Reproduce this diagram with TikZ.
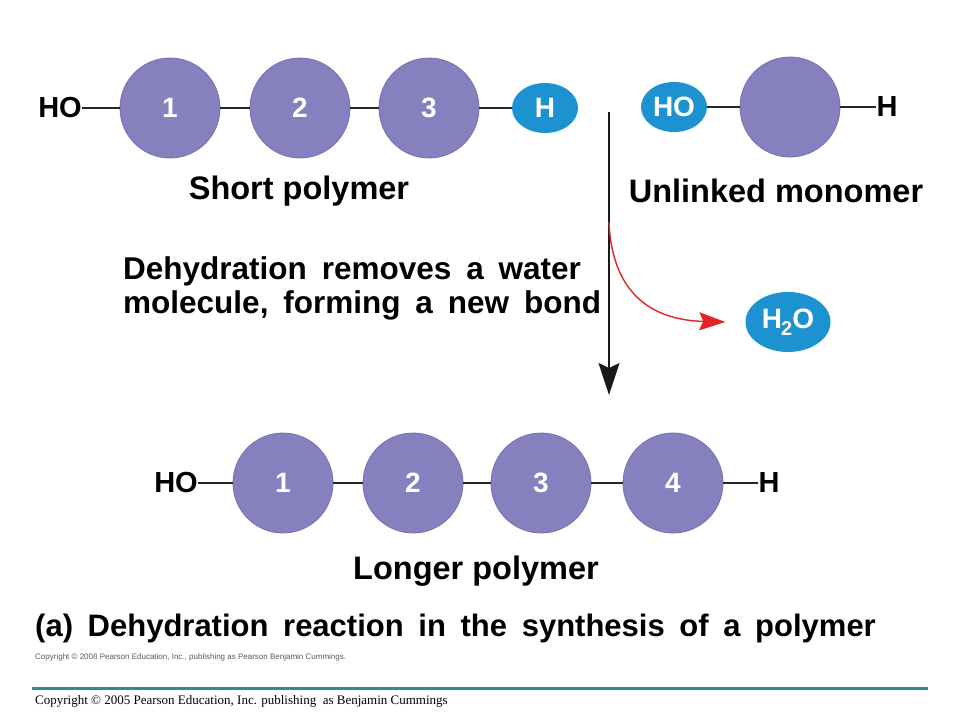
\documentclass[tikz,border=0pt]{standalone}
\usepackage{fontspec}
\setmainfont{Liberation Sans}
\newfontfamily\widefont[WordSpace=1.52]{Liberation Sans}
\newfontfamily\midfont[WordSpace=1.7]{Liberation Sans}
\newfontfamily\seriffont{Liberation Serif}
\usetikzlibrary{arrows.meta,shapes.geometric}
\definecolor{monofill}{RGB}{134,128,190}
\definecolor{monoedge}{RGB}{118,112,176}
\definecolor{grpblue}{RGB}{28,146,208}
\definecolor{arrred}{RGB}{226,35,40}
\definecolor{tealbar}{RGB}{46,140,140}
\definecolor{copygray}{RGB}{90,90,90}
\tikzset{
  mono/.style={circle, minimum size=100pt, inner sep=0pt, fill=monofill, draw=monoedge, line width=0.8pt,
    text=white, font=\bfseries\fontsize{28}{30}\selectfont},
  grp/.style={ellipse, minimum width=66pt, minimum height=50pt, inner sep=0pt, fill=grpblue,
    text=white, font=\bfseries\fontsize{28}{30}\selectfont},
  endlab/.style={inner sep=0pt, font=\bfseries\fontsize{29}{30}\selectfont},
  caplab/.style={inner sep=0pt, font=\bfseries\fontsize{32.5}{36}\selectfont},
  bond/.style={line width=1.3pt, black!85},
}
\begin{document}
\begin{tikzpicture}[x=1pt,y=-1pt]
\useasboundingbox (0,0) rectangle (960,720);
\fill[white] (0,0) rectangle (960,720);
% short polymer
\node[endlab] (tho) at (60,108) {HO};
\node[mono] (t1) at (170,108) {1};
\node[mono] (t2) at (300,108) {\raisebox{-2pt}{2}};
\node[mono] (t3) at (429,108) {\raisebox{-2pt}{3}};
\node[grp] (th) at (545,108) {H};
\draw[bond] (tho.east) -- (t1);
\draw[bond] (t1) -- (t2);
\draw[bond] (t2) -- (t3);
\draw[bond] (t3) -- (th);
\node[caplab] (tlab) at (299,191) {Short polymer};
% monomer
\node[grp] (mho) at (674,107) {HO};
\node[mono] (m1) at (790,107) {};
\node[endlab] (mh) at (887,107) {H};
\draw[bond] (mho) -- (m1);
\draw[bond] (m1) -- (mh.west);
\node[caplab] (mlab) at (776,191) {Unlinked monomer};
% reaction arrow
\coordinate (atop) at (609,112);
\coordinate (abot) at (609,395);
\coordinate (rstart) at (609,222);
\draw[line width=1.4pt, black!90, -{Stealth[length=32pt,width=21pt,inset=5pt]}] (atop) -- (abot);
\node[grp, minimum width=85pt, minimum height=60pt] (water) at (788,322) {H\kern-1pt\raisebox{-7pt}{\fontsize{20}{22}\selectfont 2}O};
\draw[line width=1.4pt, arrred, -{Stealth[length=26pt,width=18pt,inset=4pt]}] (rstart) .. controls (612,292) and (650,320) .. ([xshift=-20pt]water.west);
\node[inner sep=0pt, anchor=west, align=left, font=\bfseries\midfont\fontsize{31.5}{34}\selectfont] (dtext) at (123,288) {Dehydration removes a water\\molecule, forming a new bond};
% longer polymer
\node[endlab] (bho) at (176,483) {HO};
\node[mono] (b1) at (283,483) {1};
\node[mono] (b2) at (413,483) {2};
\node[mono] (b3) at (541,483) {\raisebox{-3pt}{3}};
\node[mono] (b4) at (673,483) {4};
\node[endlab] (bh) at (769,483) {H};
\draw[bond] (bho.east) -- (b1);
\draw[bond] (b1) -- (b2);
\draw[bond] (b2) -- (b3);
\draw[bond] (b3) -- (b4);
\draw[bond] (b4) -- (bh.west);
\node[caplab] (blab) at (476,571) {Longer polymer};
% title
\node[inner sep=0pt, anchor=west, font=\bfseries\widefont\fontsize{31}{34}\selectfont] (title) at (35,628) {(a) Dehydration reaction in the synthesis of a polymer};
\node[inner sep=0pt, anchor=west, text=copygray, font=\fontsize{8}{9}\selectfont] (copy1) at (35,657) {Copyright \textcopyright\ 2008 Pearson Education, Inc., publishing as Pearson Benjamin Cummings.};
\coordinate (barl) at (32,688);
\coordinate (barr) at (928,688);
\draw[line width=3pt, tealbar] (barl) -- (barr);
\node[inner sep=0pt, anchor=west, font=\seriffont\fontsize{13}{14}\selectfont] (copy2) at (35,701) {Copyright \textcopyright\ 2005 Pearson Education, Inc. publishing\ \ as Benjamin Cummings};
\end{tikzpicture}
\end{document}
